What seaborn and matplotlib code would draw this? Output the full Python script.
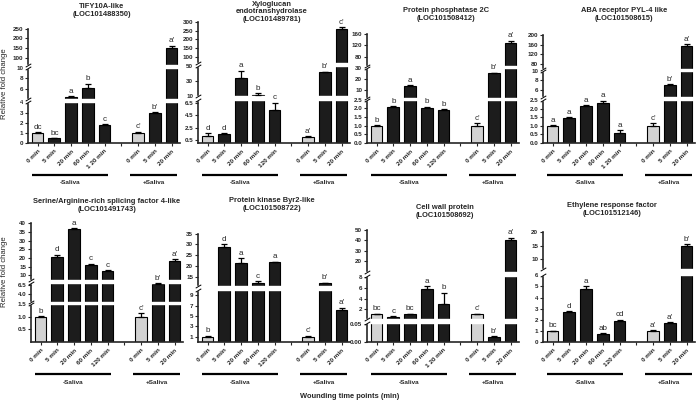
import numpy as np
import pandas as pd
import matplotlib
matplotlib.use("Agg")
import matplotlib.pyplot as plt
import matplotlib.transforms as mtransforms
import seaborn as sns

# bar order inside every panel (-Saliva: 5 time points, gap, +Saliva: 3 time points)
groups = ["-Saliva"] * 5 + ["+Saliva"] * 3
times = ["0 min", "5 min", "20 min", "60 min", "120 min", "0 min", "5 min", "20 min"]

# ---- data: mean, sem, letters ----
tify_mean = [1.0, 0.45, 4.5, 6.2, 1.8, 1.0, 2.95, 150]
tify_sem = [0.06, 0.03, 0.2, 0.8, 0.08, 0.1, 0.08, 12]
tify_let = ["dc", "bc", "a", "b", "c", "c'", "b'", "a'"]

xeth_mean = [1.1, 1.5, 34, 12.2, 5.45, 1.0, 41, 262]
xeth_sem = [0.5, 0.1, 9, 2, 1.1, 0.1, 1, 10]
xeth_let = ["d", "d", "a", "b", "c", "a'", "b'", "c'"]

pp2c_mean = [1.0, 2.1, 14, 2.0, 1.9, 1.0, 25.4, 127]
pp2c_sem = [0.02, 0.04, 0.5, 0.1, 0.05, 0.15, 0.6, 10]
pp2c_let = ["b", "b", "a", "b", "b", "c'", "b'", "a'"]

pyl_mean = [1.0, 1.45, 2.15, 2.35, 0.6, 1.0, 7.0, 153]
pyl_sem = [0.02, 0.04, 0.05, 0.1, 0.15, 0.15, 0.15, 10]
pyl_let = ["a", "a", "a", "a", "a", "c'", "b'", "a'"]

sr_mean = [1.0, 20.8, 36.5, 16, 12.5, 1.0, 7.0, 18.3]
sr_sem = [0.03, 1.2, 0.8, 0.8, 0.6, 0.15, 0.1, 1.0]
sr_let = ["b", "d", "a", "c", "c", "c'", "b'", "a'"]

byr_mean = [1.0, 29, 21.6, 12, 21.8, 1.0, 12, 6.1]
byr_sem = [0.2, 1.0, 2.0, 1.0, 0.3, 0.2, 0.3, 0.5]
byr_let = ["b", "d", "a", "c", "a", "c'", "b'", "a'"]

cwp_mean = [1.1, 0.6, 1.1, 5.8, 3.05, 1.1, 0.015, 40]
cwp_sem = [0.1, 0.1, 0.1, 0.5, 2.0, 0.1, 0.001, 2.5]
cwp_let = ["bc", "c", "bc", "a", "b", "c'", "b'", "a'"]

erf_mean = [1.0, 2.7, 4.8, 0.75, 1.9, 1.0, 1.7, 15.0]
erf_sem = [0.03, 0.05, 0.2, 0.03, 0.1, 0.05, 0.1, 0.5]
erf_let = ["bc", "d", "a", "ab", "cd", "a'", "a'", "b'"]

# y tick labels of each broken axis
tify_ticks = ["0", "1", "2", "3", "4", "6", "8", "10", "100", "150", "200", "250"]
xeth_ticks = ["0.5", "2.5", "4.5", "6.5", "10", "30", "50", "100", "150", "200", "250", "300"]
pp2c_ticks = ["0.0", "0.5", "1.0", "1.5", "2.0", "2.5", "10", "20", "30", "80", "120", "160"]
pyl_ticks = ["0.0", "0.5", "1.0", "1.5", "2.0", "2.5", "6", "8", "10", "80", "120", "160", "200"]
sr_ticks = ["0.5", "1.0", "1.5", "4.0", "6.5", "10", "15", "20", "25", "30", "35", "40"]
byr_ticks = ["1", "3", "5", "7", "9", "15", "20", "25", "30", "35"]
cwp_ticks = ["0.00", "0.05", "2", "4", "6", "8", "20", "30", "40", "50"]
erf_ticks = ["0", "1", "2", "3", "4", "5", "6", "10", "15", "20"]

# axis segments: (value_lo, value_hi, px_lo, px_hi) above the baseline
panels = [
    dict(title="TIFY10A-like\n(LOC101488350)", mean=tify_mean, sem=tify_sem, let=tify_let,
         ticks=tify_ticks, t120="1 20 min",
         segs=[(0, 4, 0, 40.6), (4.1, 10, 43.8, 75.3), (63, 250, 78, 114.3)],
         left=28, base=143, tpos=(102, 18)),
    dict(title="Xyloglucan\nendotranshydrolase\n(LOC101489781)", mean=xeth_mean, sem=xeth_sem,
         let=xeth_let, ticks=xeth_ticks, t120="120 min",
         segs=[(0, 7, 0, 43.0), (10, 50, 46.8, 77.5), (64, 300, 80, 120.8)],
         left=198, base=143, tpos=(272, 23)),
    dict(title="Protein phosphatase 2C\n(LOC101508412)", mean=pp2c_mean, sem=pp2c_sem,
         let=pp2c_let, ticks=pp2c_ticks, t120="120 min",
         segs=[(0, 2.5, 0, 43.3), (3, 30, 45.5, 74.6), (47, 160, 77, 109)],
         left=367, base=143, tpos=(446, 22)),
    dict(title="ABA receptor PYL-4 like\n(LOC101508615)", mean=pyl_mean, sem=pyl_sem,
         let=pyl_let, ticks=pyl_ticks, t120="1 20 min",
         segs=[(0, 2.5, 0, 43), (4.5, 10, 45.7, 72.3), (61, 200, 74.5, 108)],
         left=543, base=143, tpos=(624, 22)),
    dict(title="Serine/Arginine-rich splicing factor 4-like\n(LOC101491743)", mean=sr_mean,
         sem=sr_sem, let=sr_let, ticks=sr_ticks, t120="120 min",
         segs=[(0, 1.5, 0, 37.7), (1.75, 7.2, 39.6, 59.2), (7.6, 40, 62.5, 118.7)],
         left=31, base=342, tpos=(107, 213)),
    dict(title="Protein kinase Byr2-like\n(LOC101508722)", mean=byr_mean, sem=byr_sem,
         let=byr_let, ticks=byr_ticks, t120="120 min",
         segs=[(0, 10, 0, 52), (11, 35, 56.4, 108.5)],
         left=198, base=342, tpos=(272, 212)),
    dict(title="Cell wall protein\n(LOC101508692)", mean=cwp_mean, sem=cwp_sem,
         let=cwp_let, ticks=cwp_ticks, t120="1 20 min",
         segs=[(0, 0.055, 0, 19.5), (0.3, 8.2, 23.5, 66.1), (10.3, 50, 70.5, 112.4)],
         left=367, base=342, tpos=(445, 219)),
    dict(title="Ethylene response factor\n(LOC101512146)", mean=erf_mean, sem=erf_sem,
         let=erf_let, ticks=erf_ticks, t120="120 min",
         segs=[(0, 6, 0, 66.7), (6.5, 20, 73, 110.3)],
         left=543, base=342, tpos=(612, 217)),
]


def broken_scale(segs):
    vals = np.array([v for s in segs for v in (s[0], s[1])], float)
    pix = np.array([p for s in segs for p in (s[2], s[3])], float)
    s_lo = (pix[1] - pix[0]) / (vals[1] - vals[0])
    s_hi = (pix[-1] - pix[-2]) / (vals[-1] - vals[-2])

    def fwd(v):
        v = np.asarray(v, float)
        out = np.interp(v, vals, pix)
        out = np.where(v < vals[0], pix[0] + (v - vals[0]) * s_lo, out)
        return np.where(v > vals[-1], pix[-1] + (v - vals[-1]) * s_hi, out)

    def inv(p):
        p = np.asarray(p, float)
        out = np.interp(p, pix, vals)
        out = np.where(p < pix[0], vals[0] + (p - pix[0]) / s_lo, out)
        return np.where(p > pix[-1], vals[-1] + (p - pix[-1]) / s_hi, out)

    return fwd, inv


sns.set_style("ticks")
plt.rcParams["font.family"] = ["Liberation Sans", "DejaVu Sans"]

W, H = 700, 403
fig = plt.figure(figsize=(W / 100, H / 100), dpi=100)

LIGHT, DARK = "#d2d2d2", "#1c1c1c"
keys = [f"{g} {t}" for g, t in zip(groups, times)]
order = keys[:5] + ["gap"] + keys[5:]
pal = {k: (LIGHT if k.endswith(" 0 min") else DARK) for k in order}

for p in panels:
    height = p["segs"][-1][3]
    ax = fig.add_axes([p["left"] / W, (H - p["base"]) / H, 152 / W, height / H])
    df = pd.DataFrame({"slot": keys, "fold": p["mean"]})
    sns.barplot(data=df, x="slot", y="fold", hue="slot", order=order, palette=pal,
                width=0.7, saturation=1, errorbar=None, legend=False,
                edgecolor="black", linewidth=0.8, ax=ax)

    fwd, inv = broken_scale(p["segs"])
    ax.set_yscale("function", functions=(fwd, inv))
    ax.set_ylim(0, p["segs"][-1][1])
    ax.set_xlim(-0.57, 8.5)

    pos = np.array([order.index(k) for k in keys])
    mean = np.array(p["mean"])
    sem = np.array(p["sem"])
    ax.errorbar(pos, mean, yerr=[np.zeros_like(sem), sem], fmt="none", ecolor="black",
                elinewidth=0.9, capsize=2.2, capthick=0.9, zorder=4)
    for x, m, s, l in zip(pos, mean, sem, p["let"]):
        ax.annotate(l, (x, m + s), xytext=(0, 1), textcoords="offset points",
                    ha="center", va="bottom", fontsize=5.8, zorder=5)

    # gaps of the broken axis
    for a, b in zip(p["segs"][:-1], p["segs"][1:]):
        ax.axhspan(a[1], b[0], xmin=-0.03, xmax=1, color="white", zorder=3, clip_on=False)
        ax.plot([0, 0], [a[1], b[0]], transform=ax.get_yaxis_transform(),
                marker=[(-1, -0.6), (1, 0.6)], markersize=4, mew=0.7, color="black",
                linestyle="none", clip_on=False, zorder=5)

    tv = [float(t) for t in p["ticks"]]
    ax.set_yticks(tv, labels=p["ticks"], fontsize=4.5, fontweight="bold")
    ax.minorticks_off()
    xl = times[:4] + [p["t120"], ""] + times[5:]
    ax.set_xticks(range(len(order)))
    ax.set_xticklabels(xl, rotation=45, ha="right", rotation_mode="anchor",
                       fontsize=4.6, fontweight="bold")
    ax.tick_params(axis="y", length=2.5, width=0.8, pad=1)
    ax.tick_params(axis="x", length=2.5, width=0.8, pad=1.5)
    ax.set_xlabel("")
    ax.set_ylabel("")
    sns.despine(ax=ax)
    for side in ("left", "bottom"):
        ax.spines[side].set_linewidth(1.2)

    # group bars and labels under the tick labels
    for lo, hi, name in ((-0.35, 4.2, "-Saliva"), (5.5, 8.35, "+Saliva")):
        line_tr = ax.get_xaxis_transform() + mtransforms.ScaledTranslation(0, -0.32, fig.dpi_scale_trans)
        ax.plot([lo, hi], [0, 0], transform=line_tr, color="black", lw=1.6,
                clip_on=False, solid_capstyle="butt")
        txt_tr = ax.get_xaxis_transform() + mtransforms.ScaledTranslation(0, -0.40, fig.dpi_scale_trans)
        ax.text((lo + hi) / 2, 0, name, transform=txt_tr, ha="center", va="center",
                fontsize=4.6, fontweight="bold")

    tx, ty = p["tpos"]
    fig.text(tx / W, 1 - ty / H, p["title"], ha="center", va="bottom",
             multialignment="center", fontsize=5.4, fontweight="bold", linespacing=1.15)

fig.text(5 / W, 1 - 84 / H, "Relative fold change", rotation=90, ha="center", va="center", fontsize=5.6)
fig.text(5 / W, 1 - 272 / H, "Relative fold change", rotation=90, ha="center", va="center", fontsize=5.6)
fig.text(350 / W, 1 - 397 / H, "Wounding time points (min)", ha="center", va="center",
         fontsize=5.4, fontweight="bold")

fig.savefig("out.png", dpi=100)
